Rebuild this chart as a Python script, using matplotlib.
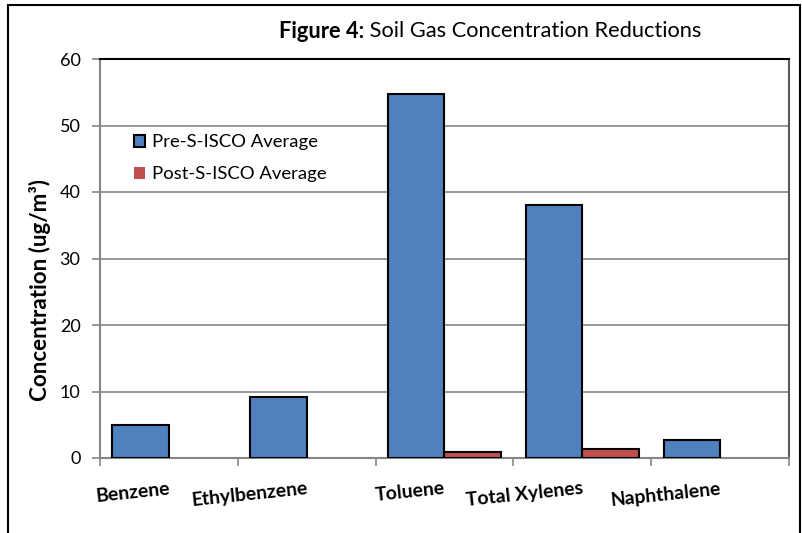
import numpy as np
import matplotlib
matplotlib.use("Agg")
import matplotlib.pyplot as plt
from matplotlib.patches import Rectangle

plt.rcParams['font.family'] = ['Lato', 'DejaVu Sans']

CATEGORIES = ['Benzene', 'Ethylbenzene', 'Toluene', 'Total Xylenes', 'Naphthalene']
PRE = [4.9, 9.1, 54.8, 38.1, 2.7]
POST = [0, 0, 0.95, 1.4, 0]
BLUE = '#4F81BD'
RED = '#C0504D'
GRID = '#868686'


def fit_width(texts, ref, target, vertical=False):
    # scale font of a group so that ref text gets the target pixel length
    r = fig.canvas.get_renderer()
    bb = ref.get_window_extent(r)
    cur = bb.height if vertical else bb.width
    k = target / cur
    for t in texts:
        t.set_fontsize(t.get_fontsize() * k)


fig = plt.figure(figsize=(8.03, 5.33), dpi=100)
ax = fig.add_axes([100/803, 1-458/533, 689/803, 399/533])

x = np.arange(len(CATEGORIES))
w = 0.41
ax.bar(x - w/2, PRE, w, color=BLUE, edgecolor='black', linewidth=1.5,
       label='Pre-S-ISCO Average', zorder=3)
ax.bar(x + w/2, POST, w, color=RED, edgecolor='black',
       linewidth=[1.5 if v > 0 else 0 for v in POST],
       label='Post-S-ISCO Average', zorder=3)

ax.set_xlim(-0.5, len(CATEGORIES) - 0.5)
ax.set_ylim(0, 60)
ax.set_yticks(range(0, 61, 10))
ax.yaxis.grid(True, color=GRID, linewidth=1.2, zorder=0)
ax.set_xticks(x)
ax.set_xticklabels([])
ax.tick_params(axis='x', which='major', length=0)
ax.set_xticks(np.arange(-0.5, len(CATEGORIES), 1), minor=True)
ax.tick_params(axis='x', which='minor', length=6, width=1.2, color=GRID)
ax.tick_params(axis='y', length=6, width=1.2, color=GRID, labelsize=13, pad=8)

xl = []
for i, c in enumerate(CATEGORIES):
    t = ax.annotate(c, xy=(i, 0), xycoords='data', xytext=(0, -16),
                    textcoords='offset points', ha='right', va='top',
                    rotation=6, rotation_mode='anchor', fontsize=12,
                    fontweight='bold', annotation_clip=False)
    xl.append(t)

for s in ['left', 'bottom']:
    ax.spines[s].set_color(GRID)
    ax.spines[s].set_linewidth(1.5)
ax.spines['top'].set_color('black')
ax.spines['top'].set_linewidth(1.5)
ax.spines['right'].set_color('#595959')
ax.spines['right'].set_linewidth(1.5)

yl = fig.text(40/803, 1-290/533, 'Concentration (ug/m³)', fontsize=13,
              fontweight='bold', rotation=90, ha='center', va='center')

leg = ax.legend(loc='upper left', bbox_to_anchor=(0.027, 0.85), frameon=False,
                fontsize=12, handlelength=0.7, handleheight=0.7,
                handletextpad=0.4, labelspacing=0.95)

t1 = fig.text(0, 1-31/533, 'Figure 4:', fontsize=15, fontweight='bold',
              ha='left', va='center')
t2 = fig.text(0, 1-31/533, ' Soil Gas Concentration Reductions', fontsize=15,
              ha='left', va='center')

fig.canvas.draw()
fit_width(xl, xl[0], 76)
fit_width(leg.get_texts(), leg.get_texts()[0], 165)
fit_width([yl], yl, 222, vertical=True)
fit_width([t1, t2], t2, 436 * 0.78)

# place the two title parts side by side, centred on x=490 px
r = fig.canvas.get_renderer()
w1 = t1.get_window_extent(r).width
w2 = t2.get_window_extent(r).width
x0 = 490 - (w1 + w2) / 2
t1.set_x(x0 / 803)
t2.set_x((x0 + w1) / 803)

fig.patches.append(Rectangle((8/803, -0.1), 792/803, 1.1 - 5/533,
                             transform=fig.transFigure, fill=False,
                             edgecolor='black', linewidth=1.5))

fig.savefig('out.png', dpi=100)
